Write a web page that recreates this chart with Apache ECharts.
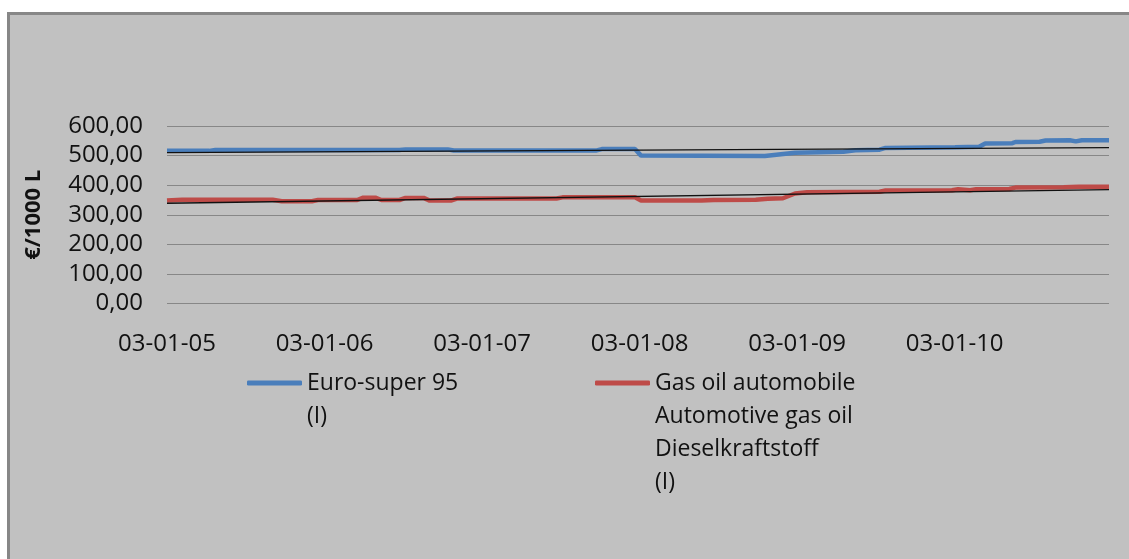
<!DOCTYPE html>
<html>
<head>
<meta charset="utf-8">
<script src="https://cdn.jsdelivr.net/npm/echarts@6/dist/echarts.min.js"></script>
<style>
  html, body { margin: 0; padding: 0; background: #ffffff; overflow: hidden; }
  #panel { position: absolute; left: 7px; top: 12px; width: 1140px; height: 560px;
           background: #c1c1c1; border-left: 3px solid #878787; border-top: 3px solid #878787; }
  #chart { position: absolute; left: 0; top: 0; width: 1129px; height: 559px; }
</style>
</head>
<body>
<div id="panel"></div>
<div id="chart"></div>
<script>
// Weekly prices, €/1000 L, sampled where the level changes
const START_DATE = '2005-01-03';

const superName = 'Euro-super 95\n(I)';
const superDates = [
  '2005-01-03', '2005-04-11', '2005-04-25', '2006-06-26', '2006-07-10', '2006-10-16',
  '2006-10-30', '2007-09-24', '2007-10-08', '2007-12-24', '2008-01-07', '2008-10-20',
  '2008-12-29', '2009-04-20', '2009-05-18', '2009-07-13', '2009-07-27', '2010-01-04',
  '2010-03-01', '2010-03-15', '2010-05-17', '2010-05-24', '2010-07-19', '2010-08-02',
  '2010-09-27', '2010-10-11', '2010-10-25', '2010-12-27'
];
const superValues = [
  516, 516, 519, 519, 521, 521,
  517, 517, 522, 522, 500, 499,
  510, 513, 518, 520, 526, 528,
  530, 541, 542, 546, 547, 551,
  552, 548, 552, 552
];

const dieselName = 'Gas oil automobile\nAutomotive gas oil\nDieselkraftstoff\n(I)';
const dieselDates = [
  '2005-01-03', '2005-02-07', '2005-09-05', '2005-09-26', '2005-12-05', '2005-12-19',
  '2006-03-20', '2006-04-03', '2006-05-01', '2006-05-15', '2006-06-26', '2006-07-10',
  '2006-08-21', '2006-09-04', '2006-10-23', '2006-11-06', '2007-06-25', '2007-07-09',
  '2007-12-24', '2008-01-07', '2008-05-26', '2008-06-23', '2008-09-29', '2008-10-27',
  '2008-12-01', '2008-12-29', '2009-01-26', '2009-07-13', '2009-07-27', '2009-12-28',
  '2010-01-11', '2010-02-08', '2010-02-22', '2010-05-10', '2010-05-24', '2010-09-13',
  '2010-10-18', '2010-12-27'
];
const dieselValues = [
  348, 351, 351, 346, 346, 350,
  350, 358, 358, 350, 350, 357,
  357, 348, 348, 355, 355, 359,
  359, 348, 348, 350, 351, 354,
  356, 372, 376, 378, 382, 383,
  386, 383, 386, 387, 392, 393,
  395, 395
];

// Linear trend lines (end points)
const trendDates = ['2005-01-03', '2010-12-27'];
const superTrend = [510, 527];
const dieselTrend = [339, 385];

// Axis ticks
const yearTickLabels = ['03-01-05', '03-01-06', '03-01-07', '03-01-08', '03-01-09', '03-01-10'];
const YEAR_DAYS = 365.25;
const X_MAX_DAYS = 2184;

const FONT = 'Open Sans';
const TEXT_COLOR = '#111111';
const BLUE = '#4a7ebb';
const RED = '#be4b48';

const DAY_MS = 86400000;
const startMs = Date.parse(START_DATE + 'T00:00:00Z');
const dayOf = d => Math.round((Date.parse(d + 'T00:00:00Z') - startMs) / DAY_MS);
const pairs = (dates, values) => dates.map((d, i) => [dayOf(d), values[i]]);

// Legend keys sit on the first line of a multi-line name: pad the text above
// with empty lines so the vertically-centred block puts line one on the key.
const keyOnFirstLine = name => {
  const extra = name.split('\n').length - 1;
  return '\n'.repeat(extra) + name;
};

const chart = echarts.init(document.getElementById('chart'), null, { renderer: 'canvas' });

const legendText = { fontFamily: FONT, fontSize: 23, color: TEXT_COLOR, lineHeight: 33 };

chart.setOption({
  animation: false,
  backgroundColor: 'transparent',
  grid: { left: 167, right: 20, top: 126, bottom: 255.4, containLabel: false },
  xAxis: {
    type: 'value',
    min: 0,
    max: X_MAX_DAYS,
    interval: YEAR_DAYS,
    axisLine: { show: false },
    axisTick: { show: false },
    splitLine: { show: false },
    axisLabel: {
      showMaxLabel: false,
      margin: 29,
      fontFamily: FONT, fontSize: 24, color: TEXT_COLOR,
      formatter: v => yearTickLabels[Math.round(v / YEAR_DAYS)] || ''
    }
  },
  yAxis: {
    type: 'value',
    min: 0, max: 600, interval: 100,
    name: '€/1000 L',
    nameLocation: 'middle',
    nameRotate: 90,
    nameGap: 122,
    nameTextStyle: { fontFamily: FONT, fontSize: 22, fontWeight: 'bold', color: TEXT_COLOR },
    axisLine: { show: false },
    axisTick: { show: false },
    splitLine: { show: true, lineStyle: { color: '#878787', width: 1.2 } },
    axisLabel: {
      margin: 24,
      fontFamily: FONT, fontSize: 24, color: TEXT_COLOR,
      formatter: v => v.toFixed(2).replace('.', ',')
    }
  },
  legend: [
    {
      left: 247, top: 333.5, padding: 0, selectedMode: false,
      icon: 'roundRect', itemWidth: 55, itemHeight: 5,
      textStyle: legendText,
      formatter: keyOnFirstLine,
      data: [superName]
    },
    {
      left: 595, top: 267.5, padding: 0, selectedMode: false,
      icon: 'roundRect', itemWidth: 55, itemHeight: 5,
      textStyle: legendText,
      formatter: keyOnFirstLine,
      data: [dieselName]
    }
  ],
  series: [
    {
      name: superName, type: 'line', symbol: 'none', showSymbol: false, z: 3,
      data: pairs(superDates, superValues),
      itemStyle: { color: BLUE },
      lineStyle: { color: BLUE, width: 4.5 }
    },
    {
      name: dieselName, type: 'line', symbol: 'none', showSymbol: false, z: 3,
      data: pairs(dieselDates, dieselValues),
      itemStyle: { color: RED },
      lineStyle: { color: RED, width: 4.5 }
    },
    {
      name: 'Trend Euro-super 95', type: 'line', symbol: 'none', showSymbol: false, z: 5,
      data: pairs(trendDates, superTrend),
      lineStyle: { color: '#111111', width: 1.3 }
    },
    {
      name: 'Trend gas oil', type: 'line', symbol: 'none', showSymbol: false, z: 5,
      data: pairs(trendDates, dieselTrend),
      lineStyle: { color: '#111111', width: 1.3 }
    }
  ]
});
</script>
</body>
</html>
